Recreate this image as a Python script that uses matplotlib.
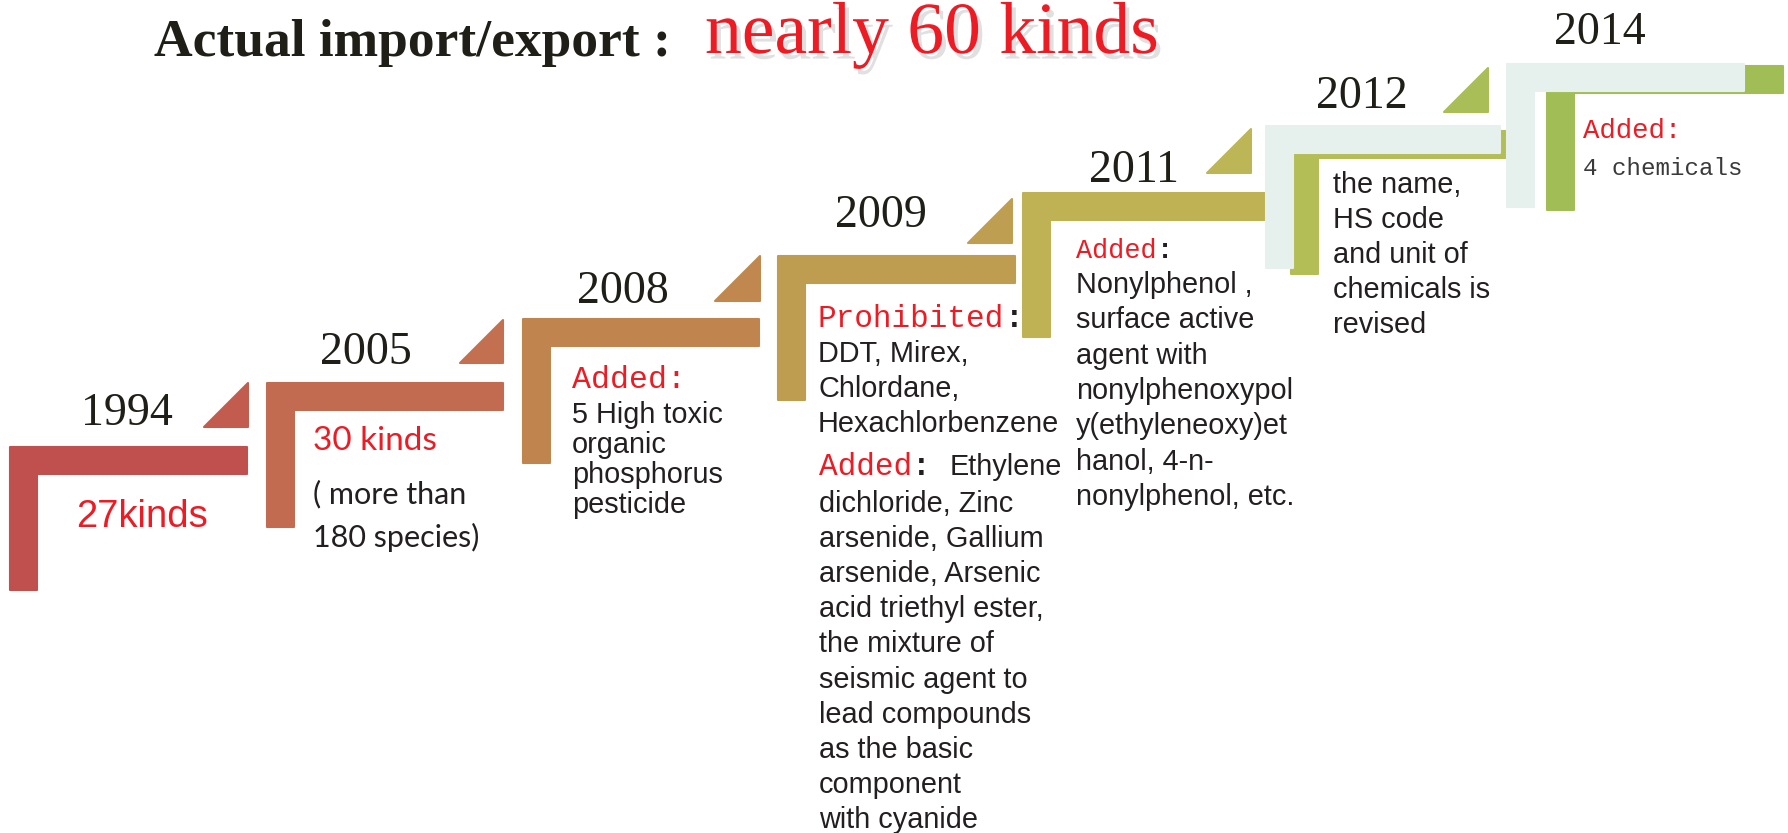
import matplotlib
matplotlib.use("Agg")
import matplotlib.pyplot as plt
import matplotlib.patheffects as pe
from matplotlib.patches import Polygon

# ---------------- data ----------------
years = ["1994", "2005", "2008", "2009", "2011", "2012", "2014"]
title_black = "Actual import/export :"
title_red = "nearly 60 kinds"

note_1994 = ["27kinds"]
note_2005_red = ["30 kinds"]
note_2005 = ["( more than", "180 species)"]
note_2008_head = "Added:"
note_2008 = ["5 High toxic", "organic", "phosphorus", "pesticide"]
note_2009_head1 = "Prohibited"
note_2009_prohibited = ["DDT, Mirex,", "Chlordane,", "Hexachlorbenzene"]
note_2009_head2 = "Added"
note_2009_first = "Ethylene"
note_2009_added = ["dichloride, Zinc", "arsenide, Gallium", "arsenide, Arsenic",
                   "acid triethyl ester,", "the mixture of", "seismic agent to",
                   "lead compounds", "as the basic", "component", "with cyanide"]
note_2011_head = "Added"
note_2011 = ["Nonylphenol ,", "surface active", "agent with", "nonylphenoxypol",
             "y(ethyleneoxy)et", "hanol, 4-n-", "nonylphenol, etc."]
note_2012 = ["the name,", "HS code", "and unit of", "chemicals is", "revised"]
note_2014_head = "Added:"
note_2014 = ["4 chemicals"]

# ---------------- styles / layout ----------------
step_colors = ["#C0504D", "#C26B51", "#C0854F", "#BE9C50", "#BEB255", "#B3BE56", "#A0BE55"]
tri_colors = ["#C25C4E", "#C27050", "#C0874F", "#BE9F51", "#BDB656", "#A9BE56"]
light = "#E6F0EC"
red = "#ED1C24"
ink = "#231F20"

# bracket boxes (left, top, right, bottom) in pixel coords
br_left = [10, 267, 523, 778, 1023, 1291, 1547]
br_top = [447, 383, 319, 256, 193, 131, 66]
br_right = [247, 503, 759, 1015, 1270, 1506, 1783]
br_bottom = [590, 527, 463, 400, 337, 274, 210]
light_left = [1266, 1507]
light_top = [126, 64]
light_right = [1500, 1744]
light_bottom = [268, 207]
TH = 27  # bar thickness

tri_right = [248, 503, 760, 1012, 1251, 1488]
tri_top = [383, 320, 256, 199, 129, 68]
tri_bottom = [427, 363, 301, 243, 173, 112]

year_cx = [127, 366, 623, 881, 1134, 1362, 1600]
year_base = [425, 364, 303, 227, 182, 108, 44]

W, H = 1788, 833
fig = plt.figure(figsize=(W / 100, H / 100), dpi=100)
ax = fig.add_axes([0, 0, 1, 1])
ax.set_xlim(0, W)
ax.set_ylim(H, 0)
ax.axis("off")

SANS = "Liberation Sans"
SERIF = "Liberation Serif"
MONO = "Liberation Mono"


def bracket(L, T, R, B, color, z):
    pts = [(L, T), (R, T), (R, T + TH), (L + TH, T + TH), (L + TH, B), (L, B)]
    ax.add_patch(Polygon(pts, closed=True, facecolor=color, edgecolor=color,
                         lw=1.5, joinstyle="round", zorder=z))


for i in range(len(years)):
    bracket(br_left[i], br_top[i], br_right[i], br_bottom[i], step_colors[i], 2 + i)
for j in range(len(light_left)):
    bracket(light_left[j], light_top[j], light_right[j], light_bottom[j], light, 10 + j)

for i in range(len(tri_right)):
    h = tri_bottom[i] - tri_top[i]
    pts = [(tri_right[i], tri_top[i]), (tri_right[i], tri_bottom[i]),
           (tri_right[i] - h, tri_bottom[i])]
    ax.add_patch(Polygon(pts, closed=True, facecolor=tri_colors[i], edgecolor=tri_colors[i],
                         lw=1.5, joinstyle="round", zorder=3))

# years
for i, y in enumerate(years):
    ax.text(year_cx[i], year_base[i], y, family=SERIF, fontsize=33, color="#1F1E17",
            ha="center", va="baseline", zorder=20)

# title
ax.text(154, 56, title_black, family=SERIF, fontweight="bold", fontsize=38.5,
        color="#1F1E17", ha="left", va="baseline", zorder=20)
ax.text(705, 53, title_red, family=SERIF, fontsize=53, color=red,
        ha="left", va="baseline", zorder=20,
        path_effects=[pe.SimplePatchShadow(offset=(3, -4), shadow_rgbFace="#BBBBBB",
                                           alpha=0.45),
                      pe.Normal()])


def lines(x, y0, dy, items, **kw):
    for k, s in enumerate(items):
        ax.text(x, y0 + k * dy, s, ha="left", va="baseline", zorder=20, **kw)


def adv(fs):
    return fs / 72 * 100 * 0.6

BODY = 20.8

# 1994
lines(76, 527, 0, note_1994, family=SANS, fontsize=27.5, color=red)
# 2005
lines(313, 450, 0, note_2005_red, family="Lato", fontsize=24, color=red)
lines(313, 503, 44, note_2005, family="Lato", fontsize=22, color=ink)
# 2008
ax.text(572, 388, note_2008_head, family=MONO, fontsize=22.8, color=red,
        ha="left", va="baseline", zorder=20)
lines(572, 423, 30, note_2008, family=SANS, fontsize=BODY, color=ink)
# 2009
fs = 22.4
ax.text(818, 327, note_2009_head1, family=MONO, fontsize=fs, color=red,
        ha="left", va="baseline", zorder=20)
ax.text(818 + len(note_2009_head1) * adv(fs), 327, ":", family=MONO, fontsize=fs,
        fontweight="bold", color=ink, ha="left", va="baseline", zorder=20)
lines(818, 362, 35, note_2009_prohibited, family=SANS, fontsize=BODY, color=ink)
ax.text(819, 475, note_2009_head2, family=MONO, fontsize=fs, color=red,
        ha="left", va="baseline", zorder=20)
ax.text(819 + len(note_2009_head2) * adv(fs), 475, ":", family=MONO, fontsize=fs,
        fontweight="bold", color=ink, ha="left", va="baseline", zorder=20)
ax.text(950, 475, note_2009_first, family=SANS, fontsize=BODY, color=ink,
        ha="left", va="baseline", zorder=20)
lines(819, 512, 35.1, note_2009_added, family=SANS, fontsize=BODY, color=ink)
# 2011
fs = 19.4
ax.text(1076, 258, note_2011_head, family=MONO, fontsize=fs, color=red,
        ha="left", va="baseline", zorder=20)
ax.text(1076 + len(note_2011_head) * adv(fs), 258, ":", family=MONO, fontsize=fs,
        fontweight="bold", color=ink, ha="left", va="baseline", zorder=20)
lines(1076, 293, 35.3, note_2011, family=SANS, fontsize=BODY, color=ink)
# 2012
lines(1333, 193, 35, note_2012, family=SANS, fontsize=BODY, color=ink)
# 2014
ax.text(1583, 138, note_2014_head, family=MONO, fontsize=19.7, color=red,
        ha="left", va="baseline", zorder=20)
lines(1583, 175, 0, note_2014, family=MONO, fontsize=17.4, color="#3A3A3A")

fig.savefig("out.png", dpi=100, facecolor="white")
